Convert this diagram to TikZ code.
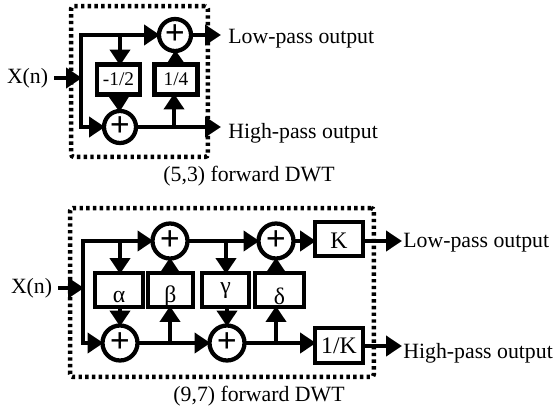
\documentclass[tikz,border=0pt]{standalone}
\usepackage{fontspec}
\setmainfont{Liberation Serif}
\usetikzlibrary{arrows.meta,positioning}
\newcommand{\dropsym}[2]{\raisebox{-#1}[0pt][0pt]{#2}}
\tikzset{
  frame/.style={draw,line width=.9mm,dash pattern=on .68mm off .66mm,rounded corners=.6mm,inner sep=0pt,outer sep=0pt},
  adder/.style={circle,draw,line width=.85mm,fill=white,inner sep=0pt,outer sep=0pt,minimum size=6.4mm,font=\fontsize{20}{20}\selectfont\bfseries},
  adderB/.style={adder,minimum size=7mm},
  gain/.style={draw,line width=.85mm,fill=white,inner sep=0pt,outer sep=0pt,font=\fontsize{11}{13}\selectfont},
  gainB/.style={gain,font=\fontsize{13.5}{16}\selectfont},
  wire/.style={line width=.85mm},
  arr/.style={wire,-{Triangle[length=3.2mm,width=4mm]},shorten >=-.2mm},
  lbl/.style={inner sep=0pt,font=\fontsize{12.4}{15}\selectfont},
}
\begin{document}
\begin{tikzpicture}[x=.02cm,y=-.02cm]
\useasboundingbox (0,0) rectangle (554,412);
% (5,3) structure
\node[frame,minimum width=27.4mm,minimum height=30.2mm] (frameA) at (139.5,81.5) {};
\node[adder] (addUA) at (175,35) {+};
\node[adder] (addLA) at (120,127) {+};
\node[gain,minimum width=8.6mm,minimum height=6mm] (predA) at (118.5,79.5) {-1/2};
\node[gain,minimum width=8.6mm,minimum height=6mm] (updA) at (176,79.5) {1/4};
\coordinate (cornerTA) at (81,35);
\coordinate (cornerBA) at (81,127);
\coordinate (inA) at (54,78);
\coordinate (joinA) at (81,78);
\coordinate (tapTA) at (120,35);
\coordinate (tapBA) at (174,127);
\coordinate (lowA) at (220,35);
\coordinate (highA) at (220,127);
\draw[arr] (inA)--(joinA);
\draw[wire,line cap=rect] (cornerTA)--(cornerBA);
\draw[arr] (cornerTA)--(addUA);
\draw[arr] (cornerBA)--(addLA);
\draw[arr] (tapTA)--(tapTA|-predA.north);
\draw[arr] (predA)--(addLA);
\draw[arr] (tapBA)--(tapBA|-updA.south);
\draw[arr] (updA)--(addUA);
\draw[arr] (addUA)--(lowA);
\draw[arr] (addLA)--(highA);
\node[lbl,left=1.1mm of inA] (xA) {X(n)};
\node[lbl,anchor=west] (lowtxtA) at (228,39) {Low-pass output};
\node[lbl,anchor=west] (hightxtA) at (228,133) {High-pass output};
\node[lbl] (capA) at (249,176) {(5,3) forward DWT};
% (9,7) structure
\node[frame,minimum width=60.8mm,minimum height=33.8mm] (frameB) at (222,292.5) {};
\node[adderB] (addU1) at (170,241) {+};
\node[adderB] (addU2) at (276,241) {+};
\node[adderB] (addL1) at (120,343) {+};
\node[adderB] (addL2) at (227,343) {+};
\node[gainB,minimum width=9.6mm,minimum height=6.8mm] (alphaB) at (119,290) {\dropsym{2.6mm}{α}};
\node[gainB,minimum width=9mm,minimum height=6.8mm] (betaB) at (170.5,290) {\dropsym{2.4mm}{β}};
\node[gainB,minimum width=9.4mm,minimum height=6.8mm] (gammaB) at (225.5,290) {\dropsym{.6mm}{γ}};
\node[gainB,minimum width=9.8mm,minimum height=6.8mm] (deltaB) at (279.5,290) {\dropsym{3mm}{δ}};
\node[gainB,minimum width=9.6mm,minimum height=6.8mm] (kB) at (339,239) {\dropsym{1.8mm}{K}};
\node[gainB,minimum width=9.6mm,minimum height=7mm] (invkB) at (339,345.5) {\dropsym{1.5mm}{1/K}};
\coordinate (cornerTB) at (83,241);
\coordinate (cornerBB) at (83,343);
\coordinate (inB) at (58,288);
\coordinate (joinB) at (83,288);
\coordinate (tapT1) at (120,241);
\coordinate (tapT2) at (226,241);
\coordinate (tapB1) at (170,343);
\coordinate (tapB2) at (276,343);
\coordinate (lowB) at (401,241);
\coordinate (highB) at (401,346);
\draw[arr] (inB)--(joinB);
\draw[wire,line cap=rect] (cornerTB)--(cornerBB);
\draw[arr] (cornerTB)--(addU1);
\draw[arr] (cornerBB)--(addL1);
\draw[arr] (addU1)--(addU2);
\draw[arr] (addL1)--(addL2);
\draw[arr] (tapT1)--(tapT1|-alphaB.north);
\draw[arr] (alphaB.south-|addL1)--(addL1);
\draw[arr] (tapB1)--(tapB1|-betaB.south);
\draw[arr] (betaB.north-|addU1)--(addU1);
\draw[arr] (tapT2)--(tapT2|-gammaB.north);
\draw[arr] (gammaB.south-|addL2)--(addL2);
\draw[arr] (tapB2)--(tapB2|-deltaB.south);
\draw[arr] (deltaB.north-|addU2)--(addU2);
\draw[arr] (addU2)--(addU2-|kB.west);
\draw[arr] (addL2)--(addL2-|invkB.west);
\draw[arr] (kB.east|-lowB)--(lowB);
\draw[arr] (invkB.east|-highB)--(highB);
\node[lbl,left=1.1mm of inB] (xB) {X(n)};
\node[lbl,anchor=west] (lowtxtB) at (403,243) {Low-pass output};
\node[lbl,anchor=west] (hightxtB) at (403,353) {High-pass output};
\node[lbl] (capB) at (259,396) {(9,7) forward DWT};
\end{tikzpicture}
\end{document}
